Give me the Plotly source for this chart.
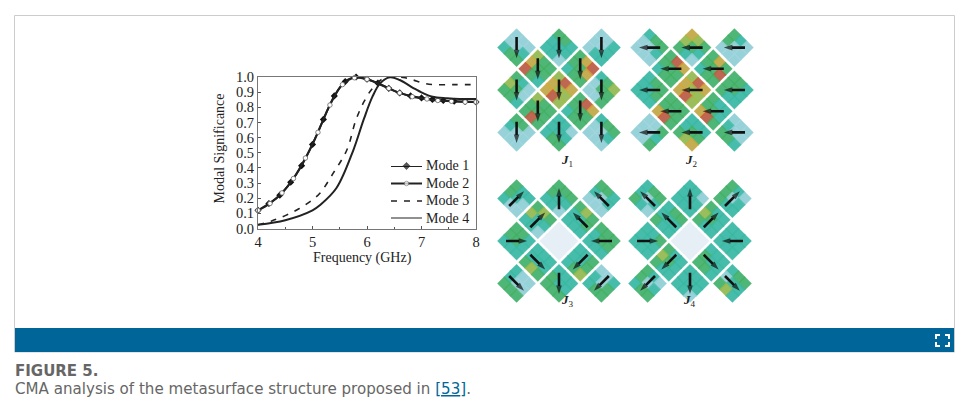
import plotly.graph_objects as go

W, H = 965, 411

# modal significance curves
mode1_x = [4.0, 4.2, 4.4, 4.6, 4.8, 5.0, 5.2, 5.4, 5.6, 5.8, 6.0, 6.2, 6.4, 6.6, 6.8, 7.0, 7.2, 7.4, 7.6, 7.8, 8.0]
mode1_y = [0.12, 0.165, 0.22, 0.305, 0.415, 0.555, 0.72, 0.875, 0.97, 1.0, 0.985, 0.96, 0.925, 0.895, 0.875, 0.862, 0.852, 0.845, 0.84, 0.838, 0.835]
mode2_x = [4.0, 4.22, 4.44, 4.65, 4.87, 5.1, 5.32, 5.55, 5.77, 6.0, 6.4, 6.6, 6.83, 7.1, 7.3, 7.55, 7.8, 8.0]
mode2_y = [0.12, 0.165, 0.235, 0.33, 0.465, 0.635, 0.815, 0.95, 0.995, 0.985, 0.925, 0.895, 0.87, 0.855, 0.845, 0.84, 0.835, 0.835]
mode3_x = [4.0, 4.25, 4.5, 4.75, 5.0, 5.14, 5.38, 5.63, 5.8, 5.95, 6.1, 6.3, 6.5, 6.7, 6.85, 7.03, 7.2, 7.6, 8.0]
mode3_y = [0.025, 0.05, 0.085, 0.13, 0.19, 0.234, 0.365, 0.518, 0.72, 0.84, 0.925, 0.99, 1.0, 0.995, 0.98, 0.96, 0.95, 0.95, 0.95]
mode4_x = [4.0, 4.5, 5.0, 5.14, 5.44, 5.75, 5.94, 6.1, 6.24, 6.42, 6.6, 6.85, 7.03, 7.2, 7.47, 7.7, 8.0]
mode4_y = [0.025, 0.055, 0.12, 0.155, 0.267, 0.518, 0.72, 0.87, 0.958, 0.998, 0.98, 0.927, 0.893, 0.87, 0.86, 0.855, 0.855]
mode_names = ["Mode 1", "Mode 2", "Mode 3", "Mode 4"]

# current distribution panels: 13 diamonds on a checkerboard grid
cell_col = [-2, 0, 2, -1, 1, -2, 0, 2, -1, 1, -2, 0, 2]
cell_row = [2, 2, 2, 1, 1, 0, 0, 0, -1, -1, -2, -2, -2]

# colour letters per diamond: top,upper right,right / upper left,centre,lower right / left,lower left,bottom
J1_cells = ["bbb" "bbt" "tgg", "ggt" "ttt" "ttb", "bbt" "bbt" "btt", "ygg" "ogg" "rgt", "gor" "ggo" "tgg", "gtb" "ygb" "ggt", "yro" "oyy" "ory",
            "tgy" "bgg" "bbg", "ygg" "ggg" "grg", "gro" "ggg" "tgg", "ggb" "tbb" "bbb", "ttb" "ttt" "tgg", "tgg" "bbt" "bbb"]
J2_cells = ["tgg" "bbt" "bbb", "oyg" "ygt" "gtb", "gtb" "gbb" "bbb", "gro" "ggg" "tgg", "gog" "ggr" "tgg", "tgg" "ttg" "ttt", "yro" "oyy" "ory",
            "ggt" "ggt" "gtt", "ggg" "ggg" "org", "gtt" "ggt" "org", "bbg" "bbt" "bbg", "ttt" "tgg" "gyo", "bbb" "tbb" "ggt"]
J3_cells = ["gtt" "gtb" "tbb", "ggg" "gtt" "ttb", "ggt" "tbt" "bbb", "gyg" "ytt" "ttb", "gyg" "ttg" "ttt", "ggt" "ggt" "ttt", "ppp" "ppp" "ppp",
            "ggg" "tgg" "ttt", "ttt" "ttt" "gyg", "ttg" "ttg" "tgy", "tbb" "tbb" "ggg", "ttt" "gtt" "ggg", "bbt" "tbg" "tgg"]
J4_cells = ["tgg" "tbt" "gtb", "ttb" "ttt" "ttt", "gtb" "gbt" "gtt", "tgg" "ttt" "gtt", "gtt" "ygt" "gtt", "ttg" "ttt" "ttt", "ppp" "ppp" "ppp",
            "ttt" "ttt" "ttt", "gtt" "ygt" "gtt", "ttt" "gtt" "ggt", "gtb" "gbt" "tgg", "ttt" "ttt" "ttb", "tgg" "btt" "gyt"]

# arrow direction per diamond ("" = no arrow)
J1_arrows = ["S"] * 13
J2_arrows = ["W"] * 13
J3_arrows = ["NE", "N", "NW", "NE", "NW", "E", "", "W", "SE", "SW", "SE", "S", "SW"]
J4_arrows = ["NW", "N", "NE", "NW", "NE", "E", "", "W", "SW", "SE", "SW", "S", "SE"]

panel_names = ["<b><i>J</i></b><sub>1</sub>", "<b><i>J</i></b><sub>2</sub>", "<b><i>J</i></b><sub>3</sub>", "<b><i>J</i></b><sub>4</sub>"]
panel_centers = [(559, 90), (692, 90), (559, 241), (690, 241)]

palette = {"b": "#a4d6e0", "t": "#38b8a2", "g": "#43b05c", "y": "#a8bb3c", "o": "#e2a42e", "r": "#d8472c", "p": "#e6edf6"}
steps = {"N": (0, 1), "S": (0, -1), "E": (1, 0), "W": (-1, 0),
         "NE": (0.7, 0.7), "NW": (-0.7, 0.7), "SE": (0.7, -0.7), "SW": (-0.7, -0.7)}

UNIT = 21.2  # px per grid step in the panels


def paper_x(px):
    return px / W


def paper_y(px):
    return 1 - px / H


mode_styles = [
    dict(line=dict(color="#222", width=2, shape="spline"), marker=dict(symbol="diamond", size=5.5, color="#111")),
    dict(line=dict(color="#222", width=2, shape="spline"), marker=dict(symbol="circle", size=4.5, color="white", line=dict(color="#666", width=0.8))),
    dict(line=dict(color="#222", width=1.6, dash="6px,7px", shape="spline")),
    dict(line=dict(color="#222", width=2, shape="spline")),
]

fig = go.Figure()

# line chart
mode_x = [mode1_x, mode2_x, mode3_x, mode4_x]
mode_y = [mode1_y, mode2_y, mode3_y, mode4_y]
for name, xs, ys, style in zip(mode_names, mode_x, mode_y, mode_styles):
    fig.add_trace(go.Scatter(x=xs, y=ys, name=name, mode="lines+markers" if "marker" in style else "lines",
                             showlegend=False, cliponaxis=False, **style))

all_cells = [J1_cells, J2_cells, J3_cells, J4_cells]
all_arrows = [J1_arrows, J2_arrows, J3_arrows, J4_arrows]
hidden = dict(showgrid=False, zeroline=False, showticklabels=False, ticks="", showline=False, fixedrange=True)

layout_axes = {}
annotations = []
for p, (cells, arrows, centre) in enumerate(zip(all_cells, all_arrows, panel_centers)):
    n = p + 2
    xa, ya = f"x{n}", f"y{n}"
    half = 3 * UNIT
    layout_axes[f"xaxis{n}"] = dict(hidden, domain=[paper_x(centre[0] - half), paper_x(centre[0] + half)], range=[-3, 3], anchor=ya)
    layout_axes[f"yaxis{n}"] = dict(hidden, domain=[paper_y(centre[1] + half), paper_y(centre[1] - half)], range=[-3, 3], anchor=xa)

    # base diamond under the coloured sub cells
    fig.add_trace(go.Scatter(x=cell_col, y=cell_row, xaxis=xa, yaxis=ya, mode="markers", showlegend=False, hoverinfo="skip",
                             marker=dict(symbol="diamond", size=29,
                                         color=["#e6edf6" if c[4] == "p" else "#6fc6c4" for c in cells],
                                         line=dict(width=0))))
    sub_x, sub_y, sub_c = [], [], []
    for col, row, letters in zip(cell_col, cell_row, cells):
        for k, letter in enumerate(letters):
            i, j = k % 3 - 1, k // 3 - 1
            sub_x.append(col + (i - j) * 0.29)
            sub_y.append(row - (i + j) * 0.29)
            sub_c.append(palette[letter])
    fig.add_trace(go.Scatter(x=sub_x, y=sub_y, xaxis=xa, yaxis=ya, mode="markers", showlegend=False, hoverinfo="skip",
                             marker=dict(symbol="diamond", size=11, color=sub_c, opacity=0.75, line=dict(width=0))))

    # arrows, tail to tip
    arrow_x, arrow_y, arrow_size = [], [], []
    for col, row, d in zip(cell_col, cell_row, arrows):
        if not d:
            continue
        dx, dy = steps[d]
        arrow_x += [col - dx / 2, col + dx / 2, None]
        arrow_y += [row - dy / 2, row + dy / 2, None]
        arrow_size += [0, 9, 0]
    fig.add_trace(go.Scatter(x=arrow_x, y=arrow_y, xaxis=xa, yaxis=ya, mode="lines+markers", showlegend=False, hoverinfo="skip",
                             line=dict(color="#111", width=2.6),
                             marker=dict(symbol="arrow", angleref="previous", size=arrow_size, color="#111", line=dict(width=0))))

    annotations.append(dict(xref="paper", yref="paper", x=paper_x(centre[0] + 8), y=paper_y(centre[1] + 70), text=panel_names[p],
                            showarrow=False, font=dict(family="Liberation Serif", size=13, color="#222")))

# hand built legend: the plotly legend can't get rows this tight
layout_axes["xaxis6"] = dict(hidden, domain=[paper_x(391), paper_x(422)], range=[0, 1], anchor="y6")
layout_axes["yaxis6"] = dict(hidden, domain=[paper_y(218.5), paper_y(166)], range=[3, 0], anchor="x6")
for row, (name, style) in enumerate(zip(mode_names, mode_styles)):
    key = dict(style, line={k: v for k, v in style["line"].items() if k != "shape"})
    if "marker" in style:
        fig.add_trace(go.Scatter(x=[0, 0.5, 1], y=[row, row, row], xaxis="x6", yaxis="y6", mode="lines+markers", showlegend=False,
                                 hoverinfo="skip", cliponaxis=False, marker=dict(style["marker"], size=[0, style["marker"]["size"], 0]), line=key["line"]))
    else:
        fig.add_trace(go.Scatter(x=[0, 1], y=[row, row], xaxis="x6", yaxis="y6", mode="lines", showlegend=False,
                                 hoverinfo="skip", cliponaxis=False, line=key["line"]))
    annotations.append(dict(xref="paper", yref="y6", x=paper_x(424), y=row, xanchor="left", yanchor="middle", showarrow=False, text=name,
                            font=dict(family="Liberation Serif", size=14, color="#222")))

# page furniture around the figure
shapes = [
    dict(type="rect", xref="paper", yref="paper", x0=paper_x(14.5), x1=paper_x(954.5), y0=paper_y(352), y1=paper_y(15.5),
         line=dict(color="#cccccc", width=1), fillcolor="white", layer="below"),
    dict(type="rect", xref="paper", yref="paper", x0=paper_x(15), x1=paper_x(954), y0=paper_y(352), y1=paper_y(328),
         line=dict(width=0), fillcolor="#006699", layer="below"),
]
# expand icon corners
for cx, cy, sx, sy in [(936, 335, 1, 1), (949, 335, -1, 1), (936, 346, 1, -1), (949, 346, -1, -1)]:
    path = f"M {paper_x(cx + 4 * sx)} {paper_y(cy)} L {paper_x(cx)} {paper_y(cy)} L {paper_x(cx)} {paper_y(cy + 4 * sy)}"
    shapes.append(dict(type="path", xref="paper", yref="paper", path=path, line=dict(color="white", width=2)))

title_font = dict(family="Liberation Serif", size=14, color="#222")
annotations += [
    dict(xref="paper", yref="paper", x=paper_x(362), y=paper_y(258), showarrow=False, text="Frequency (GHz)", font=title_font),
    dict(xref="paper", yref="paper", x=paper_x(219), y=paper_y(148.5), xanchor="center", yanchor="middle", showarrow=False,
         text="Modal Significance", textangle=-90, font=title_font),
    dict(xref="paper", yref="paper", x=paper_x(12.5), y=paper_y(371), xanchor="left", yanchor="middle", showarrow=False,
         text="<b>FIGURE 5.</b>", font=dict(family="DejaVu Sans", size=15, color="#666666")),
    dict(xref="paper", yref="paper", x=paper_x(12.5), y=paper_y(389), xanchor="left", yanchor="middle", showarrow=False,
         text='CMA analysis of the metasurface structure proposed in <span style="color:#006699">[<u>53</u>]</span>.',
         font=dict(family="DejaVu Sans", size=15.1, color="#666666")),
]

tick_font = dict(family="Liberation Serif", size=14.5, color="#222")
fig.update_layout(
    template="none",
    width=W, height=H, margin=dict(l=0, r=0, t=0, b=0), paper_bgcolor="white", plot_bgcolor="rgba(0,0,0,0)",
    xaxis=dict(domain=[paper_x(258), paper_x(476)], range=[4, 8], tickvals=[4, 5, 6, 7, 8], ticks="inside", ticklen=3, tickcolor="#555",
               minor=dict(dtick=0.5, ticks="inside", ticklen=2, tickcolor="#555"),
               showgrid=False, zeroline=False, showline=True, linecolor="#777", linewidth=1, mirror=True, tickfont=tick_font, fixedrange=True),
    yaxis=dict(domain=[paper_y(228.5), paper_y(77)], range=[0, 1], dtick=0.1, tickformat=".1f", ticks="inside", ticklen=3, tickcolor="#555",
               showgrid=False, zeroline=False, showline=True, linecolor="#777", linewidth=1, mirror=True, tickfont=tick_font, fixedrange=True),
    showlegend=False, shapes=shapes, annotations=annotations, hovermode=False, **layout_axes,
)

fig.write_html("out.html", config={"displayModeBar": False}, post_script="document.body.style.margin='0';document.body.style.overflow='hidden';")
